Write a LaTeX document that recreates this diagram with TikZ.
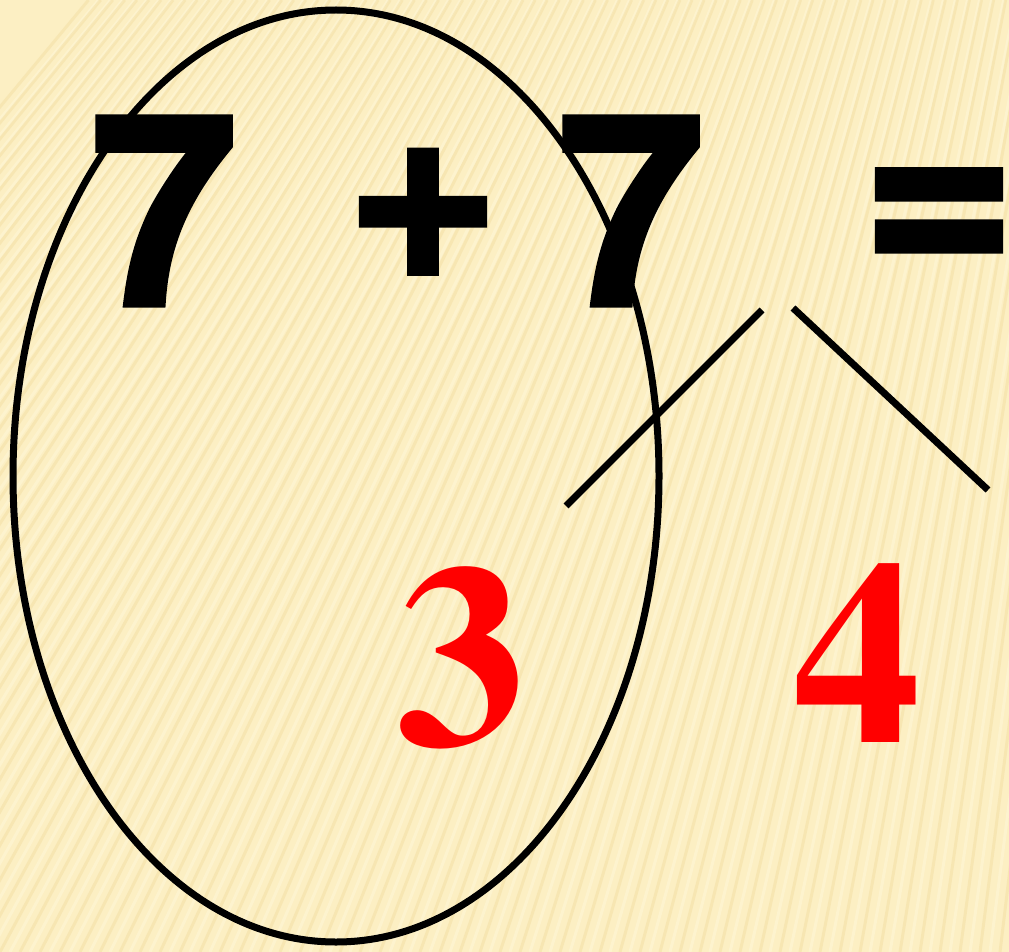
\documentclass[tikz,border=0pt]{standalone}
\usepackage{fontspec}
\newfontfamily\eqfont{texgyreheros-bold.otf}[FakeBold=2]
\newfontfamily\redfont{texgyretermes-bold.otf}
\definecolor{bgcol}{HTML}{FCEFC3}
\definecolor{stripecol}{HTML}{F1DC9F}
\definecolor{stripelight}{HTML}{FFF7DA}
\begin{document}
\begin{tikzpicture}[x=1pt,y=-1pt,
  eqtext/.style={inner sep=0pt,anchor=base,font=\eqfont\fontsize{265}{265}\selectfont},
  redtext/.style={inner sep=0pt,anchor=base,text=red,font=\redfont\fontsize{260}{260}\selectfont},
  stroke/.style={line width=7pt,black}]
\useasboundingbox (0,0) rectangle (1009,952);
\fill[bgcol] (0,0) rectangle (1009,952);
\begin{scope}
\clip (0,0) rectangle (1009,952);
\foreach \xb in {-700,-680,...,1100}{
  \pgfmathsetmacro{\k}{max(0.08,0.62-0.5*(\xb+200)/1200)}
  \pgfmathsetmacro{\xt}{\xb+952*\k}
  \draw[stripecol,line width=3pt,opacity=0.45] (\xb,952) -- (\xt,0);
  \draw[stripelight,line width=3pt,opacity=0.5] (\xb+10,952) -- (\xt+10,0);
}
\end{scope}
% equation
\node[eqtext] (sevenA) at (164,305) {7};
\node[eqtext] (plus) at (423,278) {+};
\node[eqtext] (sevenB) at (631,305) {7};
\node[eqtext,yscale=1.08] (equals) at (939,282) {=};
% ellipse
\coordinate (ringc) at (336,476);
\draw[stroke] (ringc) ellipse [x radius=323,y radius=466];
% split lines
\coordinate (lA1) at (762,310);
\coordinate (lA2) at (566,506);
\coordinate (lB1) at (793,308);
\coordinate (lB2) at (988,490);
\draw[stroke] (lA1) -- (lA2);
\draw[stroke] (lB1) -- (lB2);
% red numbers
\node[redtext] (three) at (461,745) {3};
\node[redtext] (four) at (857,742) {4};
\end{tikzpicture}
\end{document}
